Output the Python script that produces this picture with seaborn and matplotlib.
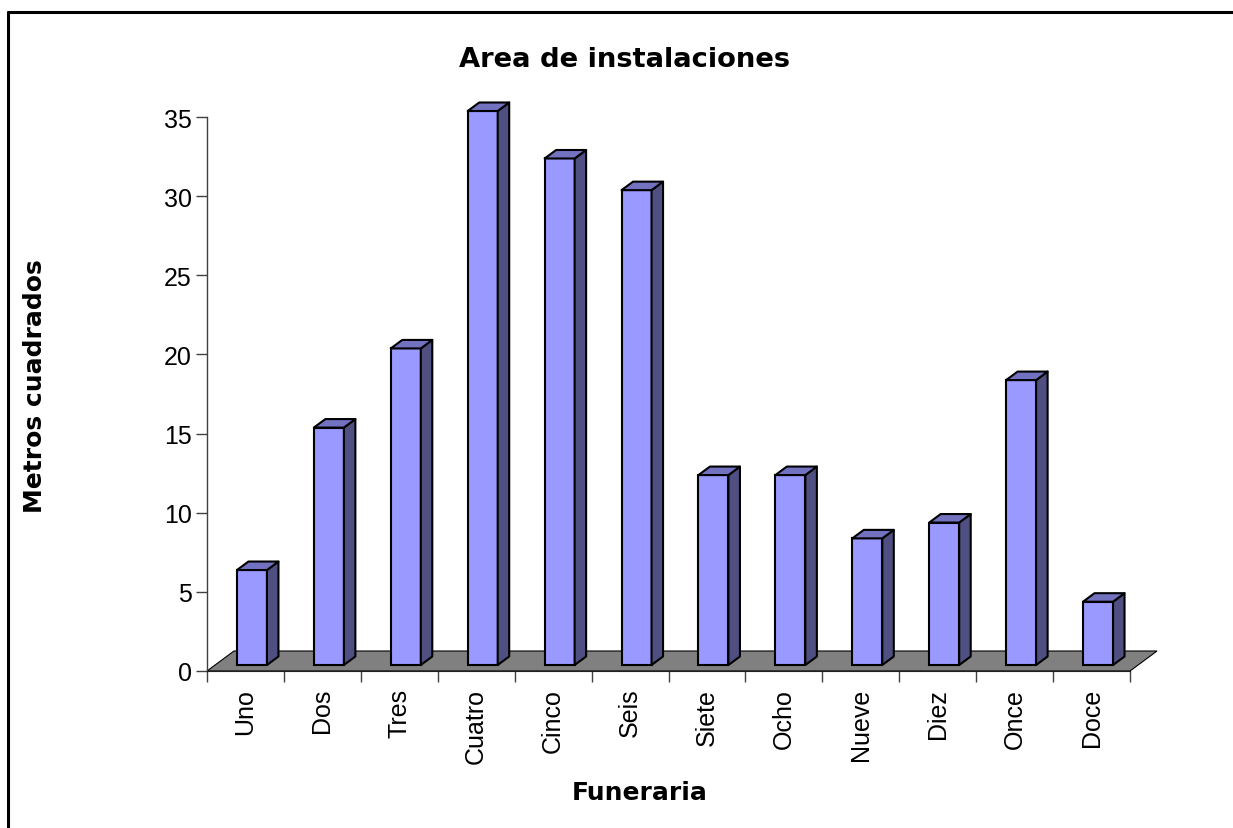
import matplotlib
matplotlib.use("Agg")
import matplotlib.pyplot as plt
import seaborn as sns
import pandas as pd
from matplotlib.patches import Polygon
from matplotlib.lines import Line2D
from matplotlib.transforms import ScaledTranslation

# ---- data ----
categories = ["Uno", "Dos", "Tres", "Cuatro", "Cinco", "Seis",
              "Siete", "Ocho", "Nueve", "Diez", "Once", "Doce"]
values = [6, 15, 20, 35, 32, 30, 12, 12, 8, 9, 18, 4]
y_ticks = [0, 5, 10, 15, 20, 25, 30, 35]
title_text = "Area de instalaciones"
xlabel_text = "Funeraria"
ylabel_text = "Metros cuadrados"

df = pd.DataFrame({"Funeraria": categories, "Metros": values})

sns.set_theme(style="white")
plt.rcParams["font.family"] = ["Liberation Sans", "DejaVu Sans"]
plt.rcParams["text.color"] = "black"
plt.rcParams["axes.labelcolor"] = "black"
plt.rcParams["xtick.color"] = "black"
plt.rcParams["ytick.color"] = "black"

W, H, DPI = 1233, 829, 100
fig = plt.figure(figsize=(W / DPI, H / DPI), dpi=DPI)
fig.patch.set_facecolor("white")

# axes placement in pixels
ax_l, ax_r, ax_top, ax_bot = 207, 1130, 118, 672
ax = fig.add_axes([ax_l / W, (H - ax_bot) / H, (ax_r - ax_l) / W, (ax_bot - ax_top) / H])
ax.set_facecolor("none")

FRONT = "#9999FF"
SIDE = "#4F4F82"
TOP = "#7272C0"
FLOOR = "#808080"

sns.barplot(data=df, x="Funeraria", y="Metros", color=FRONT, width=0.39,
            edgecolor="black", linewidth=1.5, saturation=1, ax=ax, zorder=3)

ax.set_xlim(-0.5, len(categories) - 0.5)
ax.set_ylim(0, 35)

px_x = (ax_r - ax_l) / len(categories)      # pixels per category unit
px_y = (ax_bot - ax_top) / 35.0             # pixels per value unit

# offsets (pixels): bar placement in depth and bar depth
bar_off_x, bar_off_y = 6.5, 6.0
depth_x, depth_y = 11.5, 8.5
floor_dx, floor_dy = 27, 20

off = ScaledTranslation(bar_off_x / DPI, bar_off_y / DPI, fig.dpi_scale_trans)
tr = ax.transData + off

# floor
fx = floor_dx / px_x
fy = floor_dy / px_y
x0, x1 = ax.get_xlim()
floor = Polygon([(x0, 0), (x1, 0), (x1 + fx, fy), (x0 + fx, fy)], closed=True,
                facecolor=FLOOR, edgecolor="black", linewidth=0.8,
                transform=ax.transData, clip_on=False, zorder=1)
ax.add_patch(floor)

dx = depth_x / px_x
dy = depth_y / px_y
for p in list(ax.patches):
    if p is floor:
        continue
    p.set_transform(tr)
    p.set_clip_on(False)
    bx = p.get_x()
    bw = p.get_width()
    bh = p.get_height()
    side = Polygon([(bx + bw, 0), (bx + bw, bh), (bx + bw + dx, bh + dy), (bx + bw + dx, dy)],
                   closed=True, facecolor=SIDE, edgecolor="black", linewidth=1.5,
                   joinstyle="round", transform=tr, clip_on=False, zorder=3)
    top = Polygon([(bx, bh), (bx + bw, bh), (bx + bw + dx, bh + dy), (bx + dx, bh + dy)],
                  closed=True, facecolor=TOP, edgecolor="black", linewidth=1.5,
                  joinstyle="round", transform=tr, clip_on=False, zorder=3)
    ax.add_patch(side)
    ax.add_patch(top)

# spines
for s in ["top", "right"]:
    ax.spines[s].set_visible(False)
ax.spines["left"].set_color("#404040")
ax.spines["left"].set_linewidth(1.0)
ax.spines["bottom"].set_color("#202020")
ax.spines["bottom"].set_linewidth(0.8)

# y ticks
ax.set_yticks(y_ticks)
ax.set_yticklabels([str(v) for v in y_ticks])
ax.tick_params(axis="y", which="major", direction="out", length=8, width=1.0,
               color="#404040", labelcolor="black", pad=3, labelsize=18, left=True)

# x ticks: labels at centers, tick marks at boundaries
ax.set_xticks(range(len(categories)))
ax.set_xticklabels(categories, rotation=90)
ax.set_xticks([i - 0.5 for i in range(len(categories) + 1)], minor=True)
ax.tick_params(axis="x", which="major", length=0, pad=12, labelsize=18,
               labelcolor="black", bottom=True)
ax.tick_params(axis="x", which="minor", direction="out", length=8, width=1.0,
               color="#404040", bottom=True)
for lab in ax.get_xticklabels():
    lab.set_va("top")

ax.set_xlabel("")
ax.set_ylabel("")

# texts
fig.text(624 / W, 1 - 60 / H, title_text, ha="center", va="center", color="black",
         fontsize=19.7, fontweight="bold", family=["DejaVu Sans"])
fig.text(640 / W, 1 - 793 / H, xlabel_text, ha="center", va="center", color="black",
         fontsize=18, fontweight="bold", family=["DejaVu Sans"])
fig.text(35 / W, 1 - 386 / H, ylabel_text, ha="center", va="center", rotation=90,
         color="black", fontsize=18, fontweight="bold", family=["DejaVu Sans"])

# outer frame (top and left edges)
fig.add_artist(Line2D([8 / W, 1.0], [1 - 13 / H, 1 - 13 / H], transform=fig.transFigure,
                      color="black", linewidth=2.2))
fig.add_artist(Line2D([8 / W, 8 / W], [1 - 13 / H, 0.0], transform=fig.transFigure,
                      color="black", linewidth=2.2))

fig.savefig("out.png", dpi=DPI)
